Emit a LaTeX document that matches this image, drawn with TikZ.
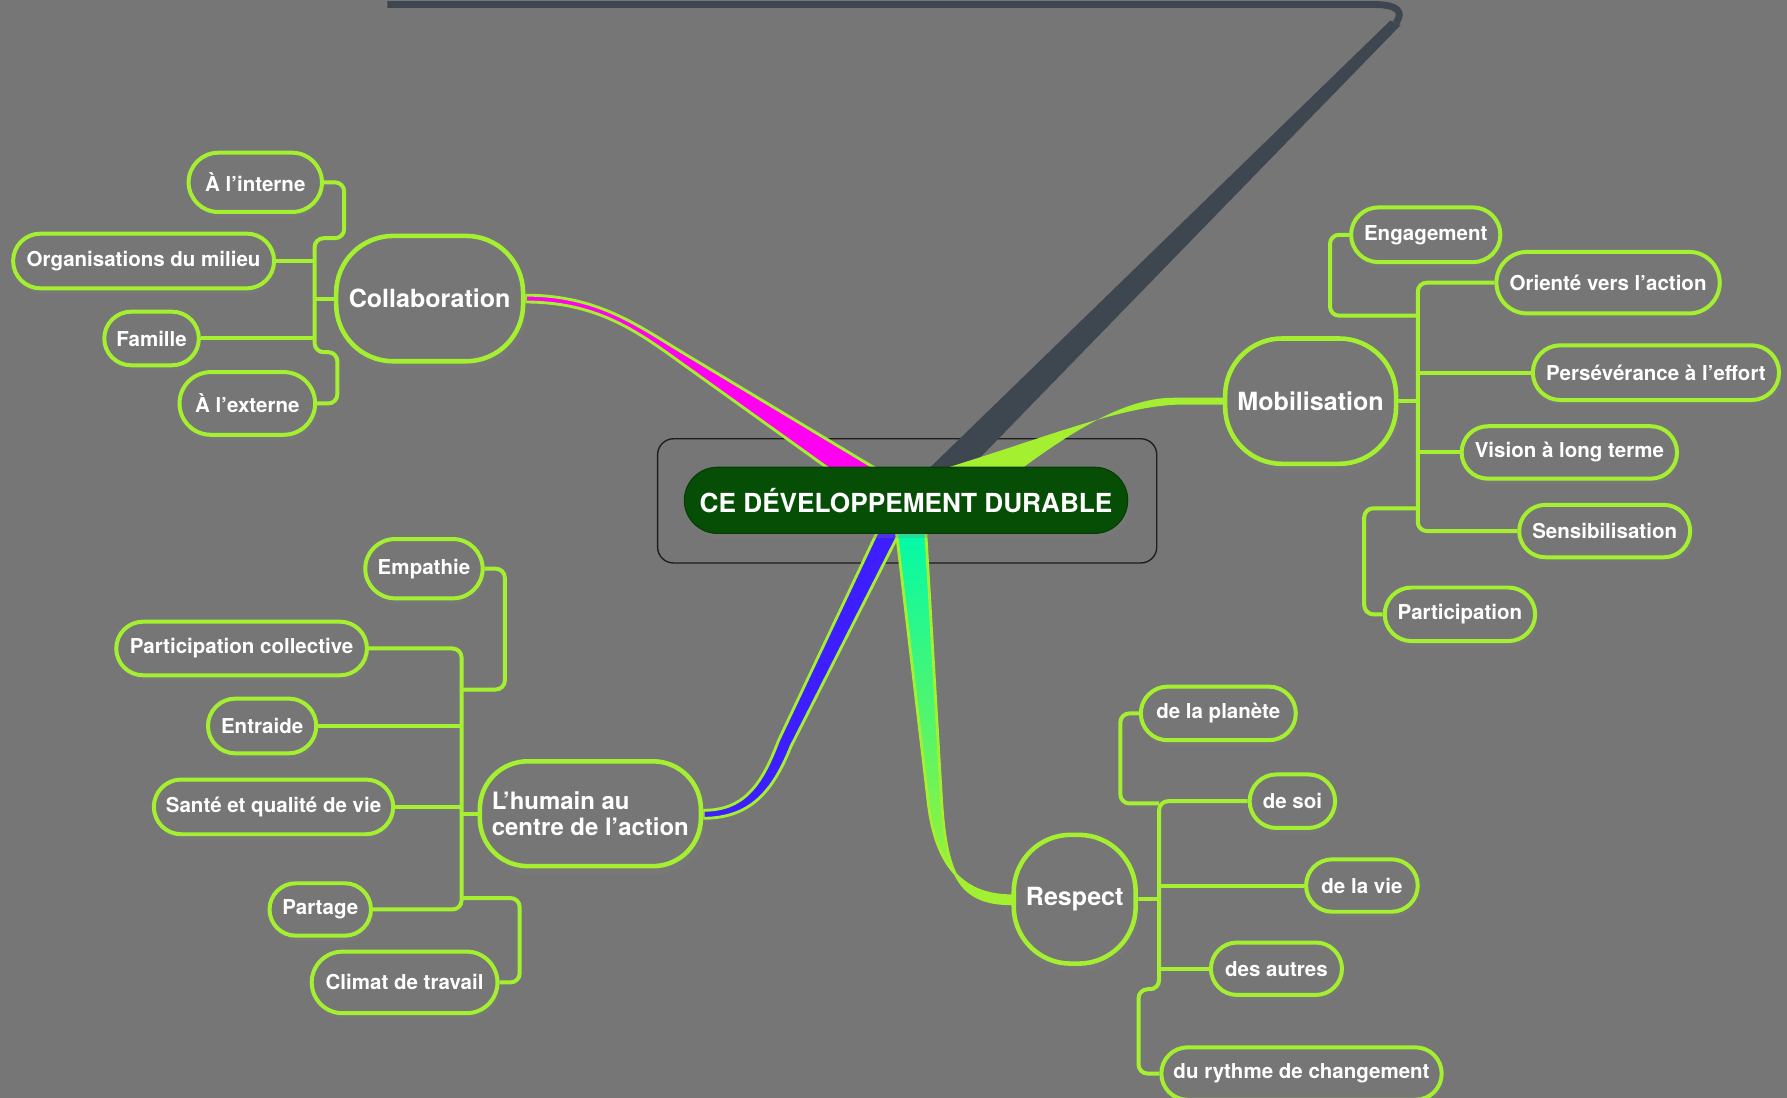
\documentclass[tikz,border=0pt]{standalone}
\usepackage{fontspec}
\setmainfont{TeX Gyre Heros}
\usetikzlibrary{shapes.misc,calc,shadows}
\definecolor{bg}{RGB}{118,118,118}
\definecolor{limeg}{RGB}{164,240,48}
\definecolor{darkbr}{RGB}{62,70,80}
\definecolor{dkgreen}{RGB}{6,78,6}
\definecolor{magbr}{RGB}{255,0,240}
\definecolor{bluebr}{RGB}{60,30,255}
\definecolor{cyanbr}{RGB}{0,250,170}
\definecolor{framec}{RGB}{30,30,30}
\pgfdeclarelayer{back}
\pgfdeclarelayer{branches}
\pgfsetlayers{back,branches,main}
\begin{document}
\begin{tikzpicture}[x=1pt,y=-1pt,
  leaf/.style={rounded rectangle, draw=limeg, line width=3.5pt, fill=bg, text=white,
    font=\bfseries\fontsize{18}{21}\selectfont, inner sep=0pt,
    drop shadow={shadow xshift=2pt,shadow yshift=-5pt,opacity=0.22}},
  topic/.style={rectangle, draw=limeg, line width=4pt, fill=bg, text=white,
    font=\bfseries\fontsize{22}{24}\selectfont, inner sep=0pt,
    drop shadow={shadow xshift=3pt,shadow yshift=-7pt,opacity=0.25}},
  rootnode/.style={rounded rectangle, draw=dkgreen!80!black, line width=1pt, fill=dkgreen, text=white,
    font=\bfseries\fontsize{23}{25}\selectfont, inner sep=0pt,
    drop shadow={shadow xshift=2pt,shadow yshift=-4pt,opacity=0.25}},
  link/.style={draw=limeg, line width=3.5pt, rounded corners=8pt},
  taper/.style={draw=limeg, line width=2.5pt, line join=round},
]
\useasboundingbox (0,0) rectangle (1568,963);
\begin{pgfonlayer}{back}
  \fill[bg] (0,0) rectangle (1568,963);
  \draw[framec, line width=1.2pt, rounded corners=14pt] (577,385) rectangle (1015,494);
\end{pgfonlayer}

% root
\node[rootnode, minimum width=389pt, minimum height=58pt] (ctr) at (795,439) {CE DÉVELOPPEMENT DURABLE};
\coordinate (topend) at (1225,20);

% topics
\node[topic, minimum width=164pt, minimum height=110pt, rounded corners=50pt] (collab) at (377,262) {Collaboration};
\node[topic, minimum width=150pt, minimum height=110pt, rounded corners=50pt] (mob) at (1150,352) {Mobilisation};
\node[topic, minimum width=107pt, minimum height=113pt, rounded corners=50pt] (resp) at (943,789) {Respect};
\node[topic, minimum width=194pt, minimum height=92pt, rounded corners=42pt, align=left,
  font=\bfseries\fontsize{21}{23}\selectfont] (hum) at (518,714) {L’humain au\\centre de l’action};

% Collaboration leaves
\node[leaf, minimum width=117pt, minimum height=52pt] (int) at (224,160) {À l’interne};
\node[leaf, minimum width=229pt, minimum height=48pt] (org) at (126,229) {Organisations du milieu};
\node[leaf, minimum width=83pt, minimum height=47pt] (fam) at (133,297) {Famille};
\node[leaf, minimum width=119pt, minimum height=55pt] (ext) at (217,354) {À l’externe};

% Mobilisation leaves
\node[leaf, minimum width=131pt, minimum height=48pt] (eng) at (1251,206) {Engagement};
\node[leaf, minimum width=196pt, minimum height=54pt] (ori) at (1411,248) {Orienté vers l’action};
\node[leaf, minimum width=216pt, minimum height=48pt] (per) at (1453,327) {Persévérance à l’effort};
\node[leaf, minimum width=189pt, minimum height=46pt] (vis) at (1377,397) {Vision à long terme};
\node[leaf, minimum width=150pt, minimum height=46pt] (sen) at (1408,466) {Sensibilisation};
\node[leaf, minimum width=132pt, minimum height=47pt] (par) at (1281,539) {Participation};

% Respect leaves
\node[leaf, minimum width=136pt, minimum height=47pt] (pla) at (1069,626) {de la planète};
\node[leaf, minimum width=75pt, minimum height=47pt] (soi) at (1134,703) {de soi};
\node[leaf, minimum width=98pt, minimum height=46pt] (vie) at (1195,777) {de la vie};
\node[leaf, minimum width=115pt, minimum height=46pt] (aut) at (1120,850) {des autres};
\node[leaf, minimum width=246pt, minimum height=46pt] (ryt) at (1142,942) {du rythme de changement};

% Humain leaves
\node[leaf, minimum width=103pt, minimum height=52pt] (emp) at (372,499) {Empathie};
\node[leaf, minimum width=220pt, minimum height=47pt] (pco) at (212,569) {Participation collective};
\node[leaf, minimum width=95pt, minimum height=48pt] (ent) at (230,637) {Entraide};
\node[leaf, minimum width=210pt, minimum height=48pt] (san) at (240,708) {Santé et qualité de vie};
\node[leaf, minimum width=89pt, minimum height=46pt] (pat) at (281,798) {Partage};
\node[leaf, minimum width=163pt, minimum height=54pt] (cli) at (355,862) {Climat de travail};

\begin{pgfonlayer}{branches}
  % leaf connectors: Collaboration
  \draw[link] (int.east) -| (302,209) -- (276,209) -- (276,309) -- (296,309) |- (ext.east);
  \draw[link] (org.east) -- (276,229);
  \draw[link] (fam.east) -- (276,297);
  \draw[link] (collab.west) -- (276,262);
  % Mobilisation
  \draw[link] (ori.west) -| (1244,466) -- (sen.west);
  \draw[link] (eng.west) -| (1167,277) -- (1244,277);
  \draw[link] (par.west) -| (1197,446) -- (1244,446);
  \draw[link] (per.west) -- (1244,327);
  \draw[link] (vis.west) -- (1244,397);
  \draw[link] (mob.east) -- (1244,352);
  % Respect
  \draw[link] (soi.west) -| (1017,868) -- (999,868) |- (ryt.west);
  \draw[link] (pla.west) -| (983,705) -- (1017,705);
  \draw[link] (aut.west) -- (1017,850);
  \draw[link] (vie.west) -- (1017,777);
  \draw[link] (resp.east) -- (1017,789);
  % Humain
  \draw[link] (pco.east) -| (405,798) -- (pat.east);
  \draw[link] (emp.east) -| (443,605) -- (405,605);
  \draw[link] (cli.east) -| (456,788) -- (405,788);
  \draw[link] (ent.east) -- (405,637);
  \draw[link] (san.east) -- (405,708);
  \draw[link] (hum.west) -- (405,714);

  % dark branch to the top
  \draw[darkbr, line width=6pt] (340,4) -- (1206,4) .. controls (1226,4) and (1232,10) .. (topend);
  \fill[darkbr] ($(topend)+(-5,-2)$) -- ($(topend)+(4,2)$) -- ($(ctr)+(47,-19)$) -- ($(ctr)+(11,-19)$) -- cycle;

  % Collaboration branch
  \filldraw[taper, fill=magbr] ($(collab.east)+(0,-3)$) .. controls (525,259) and (560,286) .. (600,310)
     -- ($(ctr)+(8,-7)$) -- ($(ctr)+(-39,-7)$) -- (597,318) .. controls (557,289) and (522,265) .. ($(collab.east)+(0,3)$) -- cycle;

  % Mobilisation branch
  \fill[limeg] ($(mob.west)+(0,-3)$) -- (1030,349) .. controls (995,349) and (955,368) .. (898,410)
     -- ($(ctr)+(85,-9)$) -- ($(ctr)+(20,-9)$) -- (829,411) .. controls (920,383) and (985,356) .. (1035,355)
     -- ($(mob.west)+(0,3)$) -- cycle;

  % Humain branch
  \filldraw[taper, fill=bluebr] ($(hum.east)+(0,-3)$) .. controls (652,711) and (668,690) .. (683,650)
     -- ($(ctr)+(-23,23)$) -- ($(ctr)+(-3,23)$) -- (694,655) .. controls (678,695) and (658,718) .. ($(hum.east)+(0,4)$) -- cycle;

  % Respect branch
  \shadedraw[taper, top color=cyanbr, bottom color=limeg] ($(ctr)+(-9,23)$) -- (814,700)
     .. controls (820,760) and (845,786) .. ($(resp.west)+(0,-3)$) -- ($(resp.west)+(0,4)$)
     .. controls (840,793) and (830,765) .. (826,700) -- ($(ctr)+(17,23)$) -- cycle;
\end{pgfonlayer}
\end{tikzpicture}
\end{document}
